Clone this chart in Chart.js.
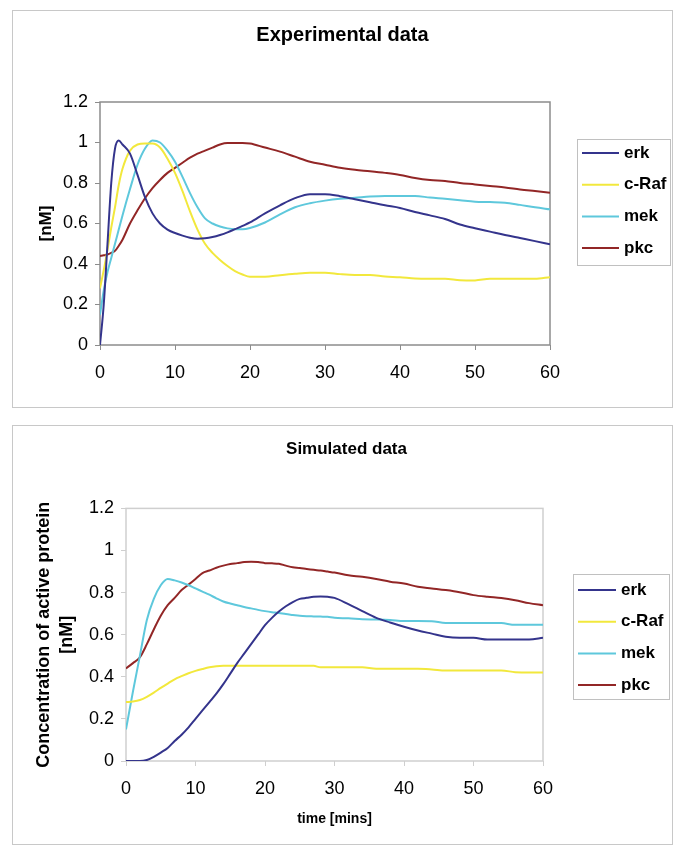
<!DOCTYPE html>
<html>
<head>
<meta charset="utf-8">
<title>Experimental and simulated data</title>
<script src="https://cdn.jsdelivr.net/npm/chart.js@4.4.1/dist/chart.umd.min.js"></script>
<style>
  body { margin: 0; background: #fff; }
  .panel { position: absolute; left: 12px; width: 659px; border: 1px solid #c8c8c8; background: #fff; }
  #panelExp { top: 10px; height: 396px; }
  #panelSim { top: 425px; height: 418px; }
  canvas { display: block; }
</style>
</head>
<body>
<div class="panel" id="panelExp"><canvas id="expChart" width="659" height="396"></canvas></div>
<div class="panel" id="panelSim"><canvas id="simChart" width="659" height="418"></canvas></div>
<script>
// series + axis data
const seriesNames = ['erk', 'c-Raf', 'mek', 'pkc'];
const xTickValues = [0, 10, 20, 30, 40, 50, 60];
const yTickValues = [0, 0.2, 0.4, 0.6, 0.8, 1, 1.2];
const yTickLabels = ['0', '0.2', '0.4', '0.6', '0.8', '1', '1.2'];

// Experimental data
const expTime = [0, 0.5, 1, 1.5, 2, 2.5, 3, 4, 5, 6, 7, 8, 9, 10, 11, 12, 13, 14, 15, 16, 17, 18, 19, 20,
  22, 24, 26, 28, 30, 32, 34, 36, 38, 40, 42, 44, 46, 48, 50, 52, 54, 56, 58, 60];
const expErk = [0, 0.2, 0.5, 0.8, 0.97, 1.01, 0.99, 0.945, 0.84, 0.73, 0.65, 0.6, 0.57, 0.553, 0.54, 0.53, 0.525, 0.527, 0.533, 0.543, 0.556, 0.572, 0.588, 0.605,
  0.65, 0.69, 0.725, 0.745, 0.745, 0.735, 0.72, 0.705, 0.69, 0.677, 0.657, 0.64, 0.622, 0.595, 0.577, 0.56, 0.543, 0.528, 0.513, 0.497];
const expRaf = [0.28, 0.37, 0.47, 0.58, 0.68, 0.79, 0.87, 0.96, 0.99, 0.995, 0.995, 0.975, 0.92, 0.85, 0.76, 0.66, 0.57, 0.5, 0.455, 0.42, 0.39, 0.365, 0.348, 0.337,
  0.337, 0.345, 0.352, 0.357, 0.357, 0.35, 0.346, 0.346, 0.338, 0.335, 0.328, 0.327, 0.327, 0.32, 0.319, 0.327, 0.327, 0.327, 0.327, 0.335];
const expMek = [0.15, 0.27, 0.36, 0.43, 0.5, 0.57, 0.64, 0.77, 0.89, 0.97, 1.01, 1.0, 0.96, 0.905, 0.83, 0.75, 0.68, 0.625, 0.6, 0.585, 0.576, 0.572, 0.572, 0.578,
  0.605, 0.645, 0.68, 0.7, 0.713, 0.722, 0.727, 0.733, 0.736, 0.736, 0.736, 0.728, 0.722, 0.715, 0.708, 0.706, 0.703, 0.692, 0.68, 0.67];
const expPkc = [0.44, 0.443, 0.447, 0.455, 0.465, 0.49, 0.52, 0.6, 0.665, 0.725, 0.775, 0.815, 0.85, 0.875, 0.9, 0.925, 0.945, 0.96, 0.975, 0.99, 0.997, 0.997, 0.997, 0.995,
  0.975, 0.955, 0.93, 0.905, 0.89, 0.875, 0.865, 0.858, 0.85, 0.84, 0.825, 0.815, 0.81, 0.8, 0.793, 0.785, 0.778, 0.768, 0.76, 0.752];

// Simulated data
const simTime = [0, 1, 2, 3, 4, 5, 6, 7, 8, 9, 10, 11, 12, 13, 14, 15, 16, 17, 18, 19, 20, 21, 22, 23, 24, 25, 26, 27, 28, 29, 30,
  32, 34, 36, 38, 40, 42, 44, 46, 48, 50, 52, 54, 56, 58, 60];
const simErk = [0, 0, 0, 0.005, 0.02, 0.04, 0.062, 0.095, 0.125, 0.16, 0.2, 0.24, 0.28, 0.32, 0.365, 0.415, 0.465, 0.51, 0.555, 0.6, 0.645, 0.68, 0.71, 0.735, 0.755, 0.77, 0.775, 0.78, 0.782, 0.78, 0.775,
  0.745, 0.712, 0.68, 0.658, 0.638, 0.62, 0.605, 0.59, 0.585, 0.585, 0.577, 0.577, 0.577, 0.577, 0.586];
const simRaf = [0.28, 0.283, 0.29, 0.305, 0.325, 0.347, 0.368, 0.388, 0.403, 0.417, 0.428, 0.437, 0.445, 0.45, 0.452, 0.452, 0.452, 0.452, 0.452, 0.452, 0.452, 0.452, 0.452, 0.452, 0.452, 0.452, 0.452, 0.452, 0.445, 0.445, 0.445,
  0.445, 0.445, 0.438, 0.438, 0.438, 0.438, 0.435, 0.43, 0.43, 0.43, 0.43, 0.43, 0.422, 0.42, 0.42];
const simMek = [0.15, 0.33, 0.5, 0.67, 0.77, 0.835, 0.865, 0.858, 0.848, 0.835, 0.82, 0.805, 0.79, 0.773, 0.758, 0.748, 0.74, 0.732, 0.725, 0.718, 0.712, 0.707, 0.703, 0.698, 0.694, 0.69, 0.688, 0.687, 0.686, 0.685, 0.68,
  0.678, 0.673, 0.672, 0.67, 0.665, 0.665, 0.664, 0.656, 0.656, 0.656, 0.656, 0.655, 0.647, 0.647, 0.647];
const simPkc = [0.44, 0.465, 0.493, 0.555, 0.625, 0.69, 0.74, 0.775, 0.812, 0.838, 0.865, 0.893, 0.905, 0.918, 0.928, 0.936, 0.94, 0.945, 0.946, 0.945, 0.94, 0.939, 0.937, 0.928, 0.92, 0.917, 0.912, 0.908, 0.905, 0.9, 0.895,
  0.882, 0.875, 0.865, 0.852, 0.843, 0.828, 0.82, 0.812, 0.802, 0.788, 0.78, 0.774, 0.764, 0.75, 0.74];

const lineColors = ['#34348c', '#f2e83c', '#5ec8dc', '#922626'];

Chart.defaults.font.family = '"Liberation Sans", Arial, sans-serif';
Chart.defaults.color = '#000';

// legend with a box round it, like the spreadsheet one
const boxLegend = {
  id: 'boxLegend',
  afterDraw(chart, args, o) {
    const ctx = chart.ctx;
    ctx.save();
    ctx.strokeStyle = '#c0c0c0';
    ctx.lineWidth = 1;
    ctx.strokeRect(o.left + 0.5, o.top + 0.5, o.width, o.height);
    ctx.font = 'bold 17px "Liberation Sans", Arial, sans-serif';
    ctx.textBaseline = 'middle';
    ctx.textAlign = 'left';
    chart.data.datasets.forEach((ds, i) => {
      const y = o.firstRow + i * o.rowGap;
      ctx.strokeStyle = ds.borderColor;
      ctx.lineWidth = 2;
      ctx.beginPath();
      ctx.moveTo(o.lineStart, y);
      ctx.lineTo(o.lineEnd, y);
      ctx.stroke();
      ctx.fillStyle = '#000';
      ctx.fillText(ds.label, o.textX, y);
    });
    ctx.restore();
  }
};

// plot area frame
const plotFrame = {
  id: 'plotFrame',
  beforeDatasetsDraw(chart, args, o) {
    const {left, top, right, bottom} = chart.chartArea;
    const ctx = chart.ctx;
    ctx.save();
    ctx.strokeStyle = o.color;
    ctx.lineWidth = o.width;
    ctx.strokeRect(left, top, right - left, bottom - top);
    ctx.restore();
  }
};

function makeChart(id, times, values, opts) {
  const datasets = values.map((vals, i) => ({
    label: seriesNames[i],
    data: times.map((t, j) => ({x: t, y: vals[j]})),
    borderColor: lineColors[i],
    borderWidth: 2,
    pointRadius: 0,
    cubicInterpolationMode: 'monotone',
    fill: false
  }));

  return new Chart(document.getElementById(id), {
    type: 'line',
    data: {datasets},
    plugins: [plotFrame, boxLegend],
    options: {
      responsive: false,
      animation: false,
      devicePixelRatio: 1,
      layout: {padding: opts.padding},
      plugins: {
        legend: {display: false},
        tooltip: {enabled: false},
        title: {
          display: true,
          text: opts.title,
          font: {size: opts.titleSize, weight: 'bold'},
          padding: opts.titlePadding
        },
        plotFrame: {color: opts.frameColor, width: 1.5},
        boxLegend: opts.legend
      },
      scales: {
        x: {
          type: 'linear',
          min: 0,
          max: 60,
          afterBuildTicks: s => { s.ticks = xTickValues.map(v => ({value: v})); },
          afterFit: s => { s.height = opts.xHeight; },
          grid: {drawOnChartArea: false, drawTicks: true, tickLength: 5, color: opts.frameColor},
          border: {display: false},
          ticks: {font: {size: 18}, padding: 12, maxRotation: 0, autoSkip: false},
          title: opts.xTitle
        },
        y: {
          min: 0,
          max: 1.2,
          afterBuildTicks: s => { s.ticks = yTickValues.map(v => ({value: v})); },
          afterFit: s => { s.width = opts.yWidth; },
          grid: {drawOnChartArea: false, drawTicks: true, tickLength: 5, color: opts.frameColor},
          border: {display: false},
          ticks: {
            font: {size: 18},
            padding: 7,
            autoSkip: false,
            callback: v => yTickLabels[yTickValues.indexOf(v)]
          },
          title: opts.yTitle
        },
        // empty strip on the right that keeps room for the legend box
        legendRoom: {
          position: 'right',
          afterFit: s => { s.width = opts.legendRoom; },
          grid: {display: false},
          border: {display: false},
          ticks: {display: false}
        }
      }
    }
  });
}

makeChart('expChart', expTime, [expErk, expRaf, expMek, expPkc], {
  title: 'Experimental data',
  titleSize: 20,
  titlePadding: {top: 12, bottom: 55},
  padding: {left: 0, right: 0, top: 0, bottom: 0},
  yWidth: 87,
  xHeight: 62,
  legendRoom: 122,
  frameColor: '#8c8c8c',
  xTitle: {display: false},
  yTitle: {display: true, text: '[nM]', font: {size: 17, weight: 'bold'}, padding: {top: 23, bottom: 0}},
  legend: {left: 564, top: 128, width: 93, height: 126, firstRow: 142, rowGap: 31.7, lineStart: 569, lineEnd: 606, textX: 611}
});

makeChart('simChart', simTime, [simErk, simRaf, simMek, simPkc], {
  title: 'Simulated data',
  titleSize: 17,
  titlePadding: {top: 13, bottom: 49},
  padding: {left: 8, right: 0, top: 0, bottom: 0},
  yWidth: 105,
  xHeight: 83,
  legendRoom: 129,
  frameColor: '#cfcfcf',
  xTitle: {display: true, text: 'time [mins]', font: {size: 14, weight: 'bold'}, padding: {top: 0, bottom: 16}},
  yTitle: {display: true, text: ['Concentration of active protein', '[nM]'], font: {size: 18, weight: 'bold', lineHeight: 1.3}, padding: {top: 11, bottom: 0}},
  legend: {left: 560, top: 148, width: 96, height: 125, firstRow: 164, rowGap: 31.7, lineStart: 565, lineEnd: 603, textX: 608}
});
</script>
</body>
</html>
